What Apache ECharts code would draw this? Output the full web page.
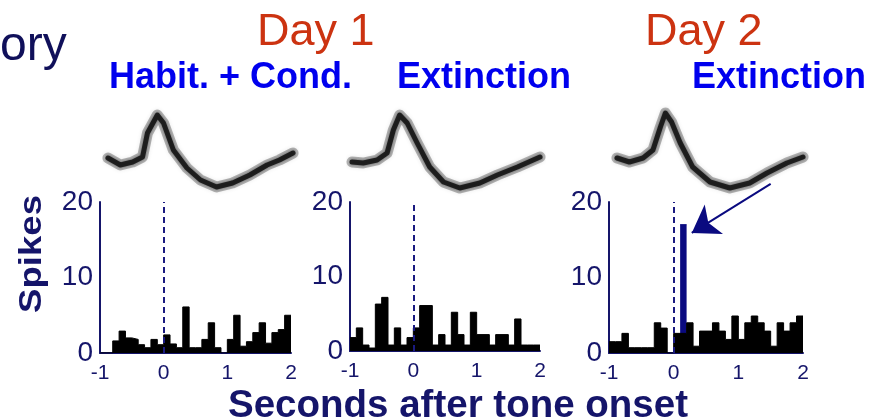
<!DOCTYPE html>
<html><head><meta charset="utf-8">
<script src="https://cdn.jsdelivr.net/npm/echarts@6/dist/echarts.min.js"></script>
<style>html,body{margin:0;padding:0;background:#fff}#c{width:873px;height:420px}</style>
</head><body><div id="c"></div>
<script>
// ---- data ----
const binStart = -1, binWidth = 0.1;
const hist1 = [0,0,1.6,2.9,2.0,1.8,1.1,0.7,1.8,1.1,2.4,1.2,0.7,6.1,0.7,0.7,1.8,4,0.7,0,1.8,5,0.9,1.5,2.7,4,1.3,2.7,3.1,5];
const hist2 = [1.8,3.1,0.8,0.4,6.3,7.2,0.8,3.1,0.8,1.8,3.1,6.1,6.1,0.8,2.2,0.8,5.2,2.2,0.8,5.2,2.2,2.2,0.8,2.2,2.2,0.8,4.3,0.8,0.8,0.8];
const hist3 = [1.5,1.5,2.6,0.7,0.7,0.7,0.7,4,3.3,0,2.6,2.6,4,0.9,2.9,2.9,4,2.9,1.8,4.9,1.8,4,4.9,4,2.9,0.9,4,2.9,4,4.9];
const highlightBin = [0.1, 0.2]; const highlightValue = 17;
const arrowFrom = [1.5, 22.4]; const arrowTo = [0.28, 15.9];
// waveforms: [time (ms), amplitude]
const wave1 = [[0,2],[0.10,-5],[0.20,-2],[0.28,3],[0.32,27],[0.40,45],[0.45,37],[0.53,10],[0.64,-8],[0.75,-20],[0.88,-27],[1.01,-23],[1.15,-15],[1.29,-5],[1.39,0],[1.5,7]];
const wave2 = [[0,-2],[0.09,-3],[0.20,0],[0.28,7],[0.33,30],[0.38,45],[0.44,37],[0.52,17],[0.62,-7],[0.73,-22],[0.86,-28],[1.02,-23],[1.16,-15],[1.32,-7],[1.5,3]];
const wave3 = [[0,2],[0.10,-2],[0.21,2],[0.29,10],[0.35,33],[0.39,47],[0.44,38],[0.51,17],[0.61,-7],[0.75,-22],[0.91,-28],[1.07,-23],[1.21,-13],[1.37,-3],[1.5,3]];
const xTicks = [-1, 0, 1, 2];
const yTicks = [0, 10, 20];
const titles = {left:'ory', day1:'Day 1', day2:'Day 2', p1:'Habit. + Cond.', p2:'Extinction', p3:'Extinction', yName:'Spikes', xName:'Seconds after tone onset'};

// ---- style ----
const NAVY = '#15156a';
const FONT = '"Liberation Sans", Arial, sans-serif';
function stepData(h){
  const d = h.map((v,i)=>[+(binStart+i*binWidth).toFixed(2), v]);
  d.push([+(binStart+h.length*binWidth).toFixed(2), h[h.length-1]]);
  return d;
}
const histGrids = [
  {left:100, top:202, width:191, height:151},
  {left:350, top:202, width:190, height:149},
  {left:609, top:202, width:194, height:151}
];
const waveGrids = [
  {left:108, top:110, width:185, height:90},
  {left:352, top:110, width:188, height:90},
  {left:617, top:110, width:186, height:90}
];
const grid = histGrids.concat(waveGrids);
const xAxis = [], yAxis = [];
histGrids.forEach((g,i)=>{
  xAxis.push({type:'value', gridIndex:i, min:xTicks[0], max:xTicks[xTicks.length-1], interval:1,
    axisLine:{show:true, onZero:false, lineStyle:{color:NAVY, width:2}},
    axisTick:{show:false}, splitLine:{show:false},
    axisLabel:{color:NAVY, fontSize:21, fontFamily:FONT, margin:10}});
  yAxis.push({type:'value', gridIndex:i, min:yTicks[0], max:yTicks[yTicks.length-1], interval:10,
    axisLine:{show:true, onZero:false, lineStyle:{color:NAVY, width:2}},
    axisTick:{show:false}, splitLine:{show:false},
    axisLabel:{color:NAVY, fontSize:28, fontFamily:FONT, margin:7}});
});
waveGrids.forEach((g,i)=>{
  xAxis.push({type:'value', gridIndex:3+i, min:0, max:1.5, show:false});
  yAxis.push({type:'value', gridIndex:3+i, min:-40, max:50, show:false});
});
const series = [];
// highlight bar (below the black histogram)
series.push({type:'line', xAxisIndex:2, yAxisIndex:2, step:'end', symbol:'none', z:2,
  data:[[highlightBin[0],highlightValue],[highlightBin[1],highlightValue]],
  lineStyle:{color:'#0a0a80', width:1}, areaStyle:{color:'#0a0a80', opacity:1}});
[hist1,hist2,hist3].forEach((h,i)=>{
  series.push({type:'line', xAxisIndex:i, yAxisIndex:i, step:'end', symbol:'none', z:3,
    data:stepData(h), lineStyle:{color:'#000', width:1}, areaStyle:{color:'#000', opacity:1},
    markLine:{silent:true, symbol:'none', label:{show:false}, animation:false,
      lineStyle:{color:'#1a1a80', type:[6,4], width:2}, data:[{xAxis:0}]}});
});
[wave1,wave2,wave3].forEach((w,i)=>{
  series.push({type:'line', xAxisIndex:3+i, yAxisIndex:3+i, symbol:'none', data:w,
    lineStyle:{color:'rgba(0,0,0,0.28)', width:11, join:'round', cap:'round', shadowBlur:4, shadowColor:'rgba(0,0,0,0.3)'}});
  series.push({type:'line', xAxisIndex:3+i, yAxisIndex:3+i, symbol:'none', data:w,
    lineStyle:{color:'rgba(15,15,15,0.85)', width:5, join:'round', cap:'round', shadowBlur:3, shadowColor:'rgba(0,0,0,0.5)'}});
});
// arrow
series.push({type:'lines', coordinateSystem:'cartesian2d', xAxisIndex:2, yAxisIndex:2, clip:false, z:5,
  symbol:['none','arrow'], symbolSize:[0,26],
  lineStyle:{color:'#0a0a80', width:2, opacity:1},
  data:[{coords:[arrowFrom, arrowTo]}]});

const tStyle = (size, color, weight)=>({fontSize:size, color:color, fontWeight:weight, fontFamily:FONT});
const title = [
  {text:titles.left, left:0, top:23, padding:0, textStyle:tStyle(48, '#10105a', 'normal')},
  {text:titles.day1, left:257, top:10, padding:0, textStyle:tStyle(45, '#cc3311', 'normal')},
  {text:titles.day2, left:645, top:10, padding:0, textStyle:tStyle(45, '#cc3311', 'normal')},
  {text:titles.p1, left:109, top:60, padding:0, textStyle:tStyle(36, '#0000ee', 'bold')},
  {text:titles.p2, left:397, top:60, padding:0, textStyle:tStyle(36, '#0000ee', 'bold')},
  {text:titles.p3, left:692, top:60, padding:0, textStyle:tStyle(36, '#0000ee', 'bold')},
  {text:titles.xName, left:228, top:387, padding:0, textStyle:tStyle(38.5, NAVY, 'bold')}
];
const chart = echarts.init(document.getElementById('c'), null, {renderer:'canvas'});
chart.setOption({animation:false, backgroundColor:'#fff', title, grid, xAxis, yAxis, series,
  graphic:[{type:'text', left:17, top:195, rotation:Math.PI/2, scaleX:1.18, style:{text:titles.yName, font:'bold 31px '+FONT, fill:NAVY}}]});
</script></body></html>
